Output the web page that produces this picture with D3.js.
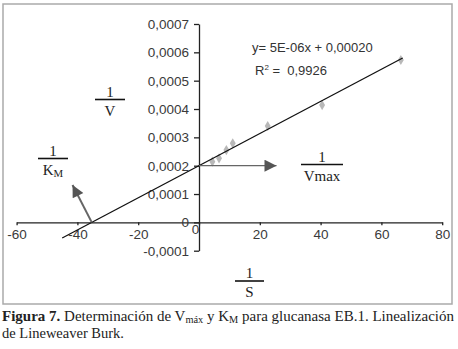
<!DOCTYPE html>
<html>
<head>
<meta charset="utf-8">
<script src="https://cdn.jsdelivr.net/npm/d3@7"></script>
<style>
  body { margin: 0; background: #fff; }
  svg { display: block; }
  .axis text { font-family: "Liberation Sans", Arial, sans-serif; font-size: 13.5px; fill: #3a3a3a; }
  .axis path, .axis line { stroke: #222; stroke-width: 1.3; }
  .serif { font-family: "Liberation Serif", "Times New Roman", serif; fill: #222; }
  .eq { font-family: "Liberation Sans", Arial, sans-serif; font-size: 13px; fill: #333; white-space: pre; }
</style>
</head>
<body>
<svg id="chart" width="458" height="349"></svg>
<script>
// Lineweaver-Burk data, 1/S and 1/V
var invS = [4.4, 6.6, 9.0, 11.1, 22.6, 40.5, 66.4];
var invV = [0.000214, 0.000226, 0.000255, 0.000279, 0.00034, 0.000414, 0.000573];

var xTicks = [-60, -40, -20, 0, 20, 40, 60, 80];
var yTicks = [-0.0001, 0, 0.0001, 0.0002, 0.0003, 0.0004, 0.0005, 0.0006, 0.0007];

// trend line drawn in the figure
var fitSlope = 0.00000567;
var fitIntercept = 0.0002;
var fitRange = [-45, 67];

var eqText = "y= 5E-06x + 0,00020";
var r2Text = "0,9926";

var svg = d3.select("#chart");

var locale = d3.formatLocale({decimal: ",", thousands: ".", grouping: [3], currency: ["", ""], minus: "-"});
var f4 = locale.format(".4f");

var xScale = d3.scaleLinear().domain([-60, 80]).range([16.6, 442.2]);
var yScale = d3.scaleLinear().domain([-0.0001, 0.0007]).range([250.7, 24]);

// frame
svg.append("rect")
  .attr("x", 3).attr("y", 4)
  .attr("width", 449).attr("height", 300)
  .attr("fill", "none")
  .attr("stroke", "#aaa")
  .attr("stroke-width", 1.5);

var xAxis = d3.axisBottom(xScale)
  .tickValues(xTicks)
  .tickSize(3)
  .tickSizeOuter(0)
  .tickFormat(function(d){ return d; });

var yAxis = d3.axisLeft(yScale)
  .tickValues(yTicks)
  .tickSize(5)
  .tickSizeOuter(0)
  .tickFormat(function(d){ return d === 0 ? "0" : f4(d); });

var gx = svg.append("g")
  .attr("class", "axis x-axis")
  .attr("transform", "translate(0," + yScale(0) + ")")
  .call(xAxis);
gx.selectAll("text").attr("dy", "0.95em").attr("y", 4);
gx.selectAll(".tick").filter(function(d){ return d === 0; })
  .select("text").attr("x", -4).attr("y", -1);

var gy = svg.append("g")
  .attr("class", "axis y-axis")
  .attr("transform", "translate(" + xScale(0) + ",0)")
  .call(yAxis);
gy.selectAll("text").attr("x", -10);

// points
svg.selectAll(".point")
  .data(invS)
  .enter().append("path")
  .attr("class", "point")
  .attr("d", d3.symbol().type(d3.symbolDiamond).size(30))
  .attr("transform", function(d, i){ return "translate(" + xScale(d) + "," + yScale(invV[i]) + ")"; })
  .attr("fill", "#b8b8b8");

// trend line
svg.append("line")
  .attr("x1", xScale(fitRange[0])).attr("y1", yScale(fitIntercept + fitSlope * fitRange[0]))
  .attr("x2", xScale(fitRange[1])).attr("y2", yScale(fitIntercept + fitSlope * fitRange[1]))
  .attr("stroke", "#111")
  .attr("stroke-width", 1.3);

// arrows
var defs = svg.append("defs");
defs.append("marker")
  .attr("id", "head")
  .attr("viewBox", "0 0 10 10")
  .attr("refX", 10).attr("refY", 5)
  .attr("markerWidth", 14).attr("markerHeight", 12)
  .attr("markerUnits", "userSpaceOnUse")
  .attr("orient", "auto")
  .append("path")
  .attr("d", "M0,0 L10,5 L0,10 Z")
  .attr("fill", "#555");

svg.append("line")
  .attr("x1", xScale(0)).attr("y1", yScale(fitIntercept))
  .attr("x2", xScale(25.5)).attr("y2", yScale(fitIntercept))
  .attr("stroke", "#666").attr("stroke-width", 1.3)
  .attr("marker-end", "url(#head)");

var kmX = -fitIntercept / fitSlope;
svg.append("line")
  .attr("x1", xScale(kmX)).attr("y1", yScale(0))
  .attr("x2", xScale(-41.6)).attr("y2", yScale(0.000132))
  .attr("stroke", "#666").attr("stroke-width", 2)
  .attr("marker-end", "url(#head)");

// fraction labels
function fraction(cx, lineY, halfW, denom, sub, size){
  var g = svg.append("g").attr("class", "serif").attr("font-size", size);
  g.append("text").attr("x", cx).attr("y", lineY - 3)
    .attr("text-anchor", "middle").text("1");
  g.append("line")
    .attr("x1", cx - halfW).attr("x2", cx + halfW)
    .attr("y1", lineY).attr("y2", lineY)
    .attr("stroke", "#111").attr("stroke-width", 1.6);
  var t = g.append("text").attr("x", cx).attr("y", lineY + size + 1)
    .attr("text-anchor", "middle");
  t.append("tspan").text(denom);
  if (sub) t.append("tspan").attr("font-size", size * 0.72).attr("dy", 2).text(sub);
}

fraction(110, 99.5, 15, "V", null, 15);
fraction(53, 158.5, 15, "K", "M", 15);
fraction(322, 164.5, 21, "Vmax", null, 15);
fraction(249.5, 281, 14.5, "S", null, 15);

// equation
svg.append("text").attr("class", "eq")
  .attr("x", 252).attr("y", 52).text(eqText);
var r2 = svg.append("text").attr("class", "eq").attr("x", 255).attr("y", 75);
r2.append("tspan").text("R");
r2.append("tspan").attr("font-size", 8).attr("dy", -5).text("2");
r2.append("tspan").attr("dy", 5).text(" =  " + r2Text);

// caption
var cap1 = svg.append("text").attr("class", "serif")
  .attr("x", 2).attr("y", 321).attr("font-size", 14.5)
  .attr("textLength", 452).attr("lengthAdjust", "spacingAndGlyphs");
cap1.append("tspan").attr("font-weight", "bold").text("Figura 7.");
cap1.append("tspan").text(" Determinación de V");
cap1.append("tspan").attr("font-size", 10).attr("dy", 2).text("máx");
cap1.append("tspan").attr("dy", -2).text(" y K");
cap1.append("tspan").attr("font-size", 10).attr("dy", 2).text("M");
cap1.append("tspan").attr("dy", -2).text(" para glucanasa EB.1. Linealización");

svg.append("text").attr("class", "serif")
  .attr("x", 2).attr("y", 338).attr("font-size", 14.5)
  .text("de Lineweaver Burk.");
</script>
</body>
</html>
